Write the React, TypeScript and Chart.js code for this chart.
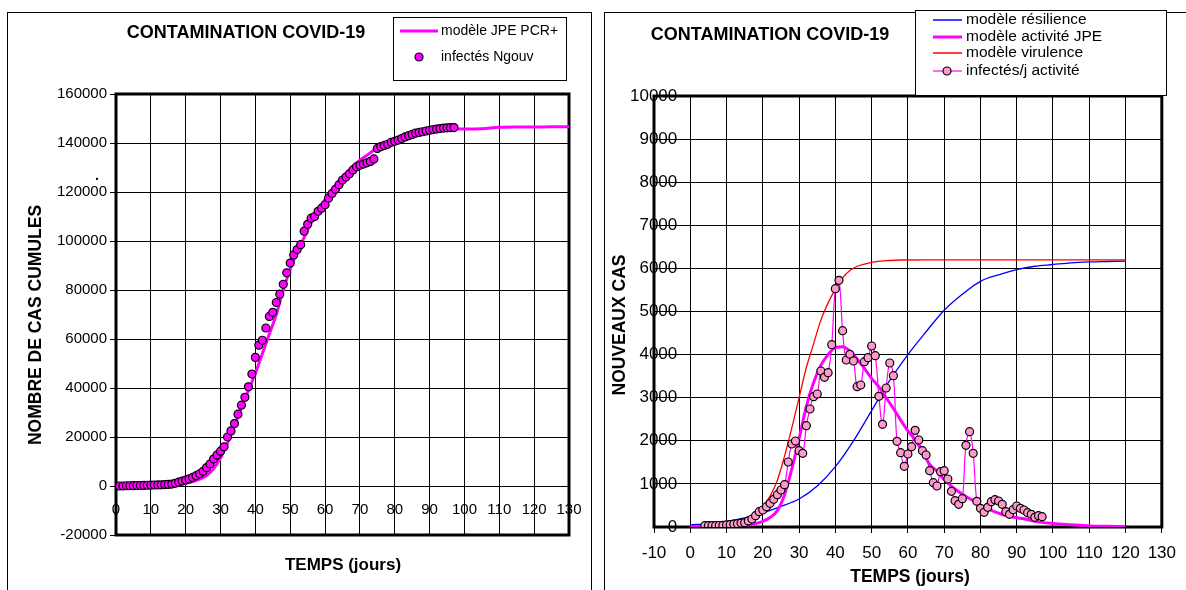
import React, { useEffect, useRef } from "react";
import { Chart, registerables } from "chart.js";
Chart.register(...registerables);

const FONT = "'Liberation Sans', Arial, sans-serif";

// ---------- LEFT CHART DATA (cumulative) ----------
const cumStartDay = 0;
const cumValues = [
  0, 0, 0, 100, 100, 150, 200, 200, 250, 300,
  350, 400, 450, 500, 600, 650, 800, 1100, 1600, 2000,
  2400, 2900, 3500, 4200, 5000, 6000, 7500, 9000, 11000, 12700,
  14200, 16000, 20000, 22500, 25500, 29300, 33000, 36200, 40500, 45700,
  52500, 57500, 59500, 64500, 69200, 70900, 74900, 78300, 82300, 87000,
  91000, 94300, 96500, 98500, 104000, 106800, 109300, 110000, 112100, 113400,
  114800, 117500, 119400, 121100, 123000, 124900, 126100, 127400, 129000, 130300,
  130900, 131400, 131900, 132500, 133500, 137800, 138500, 139000, 139500, 140300,
  140700, 141200, 141800, 142500, 143000, 143500, 144000, 144300, 144600, 144900,
  145200, 145500, 145700, 145900, 146100, 146200, 146250, 146300,
];
const cumModelDays = [
  0, 2, 4, 6, 8, 10, 12, 14, 16, 18, 20, 22, 24, 26, 28, 30, 32, 34, 36, 38,
  40, 42, 44, 46, 48, 50, 52, 54, 56, 58, 60, 62, 64, 66, 68, 70, 72, 74, 76, 78,
  80, 82, 84, 86, 88, 90, 92, 94, 96, 98, 100, 105, 110, 115, 120, 125, 130,
];
const cumModelValues = [
  0, 0, 0, 0, 50, 100, 150, 250, 400, 700, 1100, 1800, 2800, 4300, 7000, 11500, 17500, 24500, 32000, 39000,
  46000, 54000, 62000, 70000, 80000, 88500, 95500, 101500, 107500, 112500, 117000, 121000, 124500, 127500, 130500, 133000, 135000, 137000, 138800, 140000,
  141000, 142000, 142800, 143500, 144200, 144800, 145200, 145500, 145600, 145700, 145700, 145800, 146400, 146500, 146500, 146600, 146600,
];

// ---------- RIGHT CHART DATA (daily) ----------
const dailyStartDay = 4;
const dailyValues = [
  30, 30, 30, 30, 35, 40, 50, 55, 65, 75,
  90, 100, 140, 186, 263, 356, 394, 472, 550, 642,
  750, 858, 982, 1508, 1926, 1995, 1771, 1710, 2350, 2738,
  3024, 3086, 3620, 3473, 3580, 4230, 5530, 5724, 4555, 3875,
  4006, 3851, 3255, 3295, 3836, 3929, 4200, 3975, 3032, 2382,
  3225, 3805, 3511, 1988, 1725, 1408, 1694, 1864, 2243, 2018,
  1770, 1670, 1306, 1028, 951, 1283, 1306, 1114, 828, 610,
  527, 657, 1896, 2211, 1710, 596, 434, 341, 457, 587,
  633, 603, 527, 355, 295, 401, 487, 434, 394, 332,
  295, 225, 262, 239,
];
const activityModelDays = [
  0, 5, 10, 15, 18, 20, 22, 24, 26, 28, 30, 32, 34, 36, 38, 40, 42, 44, 46, 48,
  50, 52, 54, 56, 58, 60, 62, 64, 66, 68, 70, 72, 74, 76, 78, 80, 82, 84, 86, 88,
  90, 92, 95, 100, 105, 110, 115, 120,
];
const activityModelValues = [
  0, 0, 5, 30, 80, 130, 220, 380, 750, 1350, 2050, 2800, 3350, 3750, 4000, 4160, 4180, 4080, 3900, 3680,
  3450, 3250, 3000, 2750, 2480, 2230, 2020, 1750, 1450, 1300, 1100, 950, 820, 710, 610, 500, 420, 350, 290, 250,
  215, 190, 130, 80, 50, 25, 15, 5,
];
const virulenceDays = [0, 5, 10, 14, 16, 18, 20, 22, 24, 26, 28, 30, 32, 34, 36, 38, 40, 42, 44, 46, 48, 50, 54, 58, 65, 80, 100, 120];
const virulenceValues = [0, 10, 40, 100, 170, 290, 470, 720, 1080, 1650, 2300, 3000, 3700, 4250, 4800, 5200, 5520, 5780, 5950, 6050, 6100, 6140, 6180, 6195, 6200, 6200, 6200, 6200];
const resilienceDays = [0, 5, 10, 15, 20, 25, 30, 35, 40, 45, 50, 55, 60, 65, 70, 75, 80, 85, 90, 95, 100, 105, 110, 115, 120];
const resilienceValues = [50, 80, 130, 210, 330, 480, 650, 950, 1400, 2000, 2700, 3400, 4000, 4530, 5030, 5400, 5700, 5850, 5970, 6050, 6090, 6130, 6150, 6160, 6170];

const TITLE = "CONTAMINATION COVID-19";
const X_TITLE = "TEMPS (jours)";
const LEFT_Y_TITLE = "NOMBRE DE CAS CUMULES";
const RIGHT_Y_TITLE = "NOUVEAUX CAS";
const LEFT_LEGEND = ["modèle JPE PCR+", "infectés Ngouv"];
const RIGHT_LEGEND = ["modèle résilience", "modèle activité JPE", "modèle virulence", "infectés/j activité"];

const MAGENTA = "#ff00ff";
const PINK = "#ff99cc";
const RED = "#ff0000";
const BLUE = "#0000ff";

const pts = (xs: number[], ys: number[]) => ys.map((y, i) => ({ x: xs[i], y }));
const seq = (start: number, ys: number[]) => ys.map((y, i) => ({ x: start + i, y }));
const plain = (v: any) => String(v);

function drawFrame(ctx: CanvasRenderingContext2D, a: any, w: number) {
  ctx.save();
  ctx.strokeStyle = "#000";
  ctx.lineWidth = w;
  ctx.strokeRect(a.left, a.top, a.right - a.left, a.bottom - a.top);
  ctx.restore();
}

function text(ctx: CanvasRenderingContext2D, s: string, x: number, y: number, size: number, bold: boolean, align: CanvasTextAlign = "center", rot = 0) {
  ctx.save();
  ctx.translate(x, y);
  if (rot) ctx.rotate(rot);
  ctx.font = `${bold ? "bold " : ""}${size}px ${FONT}`;
  ctx.fillStyle = "#000";
  ctx.textAlign = align;
  ctx.textBaseline = "middle";
  ctx.fillText(s, 0, 0);
  ctx.restore();
}

function marker(ctx: CanvasRenderingContext2D, x: number, y: number, fill: string) {
  ctx.save();
  ctx.beginPath();
  ctx.arc(x, y, 4, 0, Math.PI * 2);
  ctx.fillStyle = fill;
  ctx.fill();
  ctx.lineWidth = 1.2;
  ctx.strokeStyle = "#000";
  ctx.stroke();
  ctx.restore();
}

function seg(ctx: CanvasRenderingContext2D, x1: number, x2: number, y: number, color: string, w: number) {
  ctx.save();
  ctx.beginPath();
  ctx.moveTo(x1, y);
  ctx.lineTo(x2, y);
  ctx.strokeStyle = color;
  ctx.lineWidth = w;
  ctx.stroke();
  ctx.restore();
}

const leftDeco = {
  id: "leftDeco",
  beforeDatasetsDraw(chart: any) {
    drawFrame(chart.ctx, chart.chartArea, 3);
  },
  afterDraw(chart: any) {
    const ctx = chart.ctx;
    text(ctx, TITLE, 246, 33, 18, true);
    ctx.save();
    ctx.fillStyle = "#fff";
    ctx.fillRect(393, 17, 173, 63);
    ctx.strokeStyle = "#000";
    ctx.lineWidth = 1;
    ctx.strokeRect(393.5, 17.5, 173, 63);
    ctx.restore();
    seg(ctx, 400, 438, 31, MAGENTA, 3);
    text(ctx, LEFT_LEGEND[0], 441, 31, 14, false, "left");
    marker(ctx, 419, 57, MAGENTA);
    text(ctx, LEFT_LEGEND[1], 441, 57, 14, false, "left");
    text(ctx, LEFT_Y_TITLE, 36, 325, 17.5, true, "center", -Math.PI / 2);
    text(ctx, ".", 97, 176, 14, true);
    text(ctx, X_TITLE, 343, 565, 17, true);
  },
};

const rightDeco = {
  id: "rightDeco",
  beforeDatasetsDraw(chart: any) {
    drawFrame(chart.ctx, chart.chartArea, 3);
  },
  afterDraw(chart: any) {
    const ctx = chart.ctx;
    text(ctx, TITLE, 172, 35, 18, true);
    ctx.save();
    ctx.fillStyle = "#fff";
    ctx.fillRect(317, 10, 251, 85);
    ctx.strokeStyle = "#000";
    ctx.lineWidth = 1;
    ctx.strokeRect(317.5, 10.5, 251, 85);
    ctx.restore();
    const ys = [20, 37, 53, 71];
    seg(ctx, 335, 364, ys[0], BLUE, 1.5);
    seg(ctx, 335, 364, ys[1], MAGENTA, 3);
    seg(ctx, 335, 364, ys[2], RED, 1.5);
    seg(ctx, 335, 364, ys[3], MAGENTA, 1.2);
    marker(ctx, 349, ys[3], PINK);
    RIGHT_LEGEND.forEach((s, i) => text(ctx, s, 368, ys[i], 15.5, false, "left"));
    text(ctx, RIGHT_Y_TITLE, 22, 325, 17.5, true, "center", -Math.PI / 2);
    text(ctx, X_TITLE, 312, 577, 17.5, true);
  },
};

function LeftChart() {
  const ref = useRef<HTMLCanvasElement>(null);
  useEffect(() => {
    const chart = new Chart(ref.current as HTMLCanvasElement, {
      type: "line",
      data: {
        datasets: [
          {
            label: LEFT_LEGEND[1],
            data: seq(cumStartDay, cumValues),
            showLine: false,
            pointRadius: 4,
            pointBackgroundColor: MAGENTA,
            pointBorderColor: "#000",
            pointBorderWidth: 1.2,
            order: 0,
          },
          {
            label: LEFT_LEGEND[0],
            data: pts(cumModelDays, cumModelValues),
            borderColor: MAGENTA,
            borderWidth: 3,
            pointRadius: 0,
            cubicInterpolationMode: "monotone",
            order: 1,
          },
        ],
      } as any,
      options: {
        responsive: false,
        animation: false,
        layout: { padding: { left: 0, top: 94, right: 29, bottom: 55 } },
        plugins: { legend: { display: false }, tooltip: { enabled: false }, title: { display: false } },
        scales: {
          x: {
            type: "linear",
            min: 0,
            max: 130,
            position: { y: 0 } as any,
            ticks: { stepSize: 10, color: "#000", font: { family: FONT, size: 15 }, padding: 15, autoSkip: false, maxRotation: 0, callback: plain },
            grid: { color: "#000", lineWidth: 1, drawTicks: false },
            border: { display: false },
          },
          y: {
            type: "linear",
            min: -20000,
            max: 160000,
            ticks: { stepSize: 20000, color: "#000", font: { family: FONT, size: 15 }, padding: 3, callback: plain },
            grid: { color: "#000", lineWidth: 1, tickLength: 6 },
            border: { display: false },
            afterFit(s: any) {
              s.width = 116;
            },
          },
        },
      } as any,
      plugins: [leftDeco],
    });
    return () => chart.destroy();
  }, []);
  return <canvas ref={ref} width={598} height={590} style={{ position: "absolute", left: 0, top: 0, width: 598, height: 590 }} />;
}

function RightChart() {
  const ref = useRef<HTMLCanvasElement>(null);
  useEffect(() => {
    const chart = new Chart(ref.current as HTMLCanvasElement, {
      type: "line",
      data: {
        datasets: [
          {
            label: RIGHT_LEGEND[3],
            data: seq(dailyStartDay, dailyValues),
            borderColor: MAGENTA,
            borderWidth: 1.2,
            tension: 0.4,
            pointRadius: 4,
            pointBackgroundColor: PINK,
            pointBorderColor: "#000",
            pointBorderWidth: 1.2,
            order: 0,
          },
          {
            label: RIGHT_LEGEND[1],
            data: pts(activityModelDays, activityModelValues),
            borderColor: MAGENTA,
            borderWidth: 3,
            pointRadius: 0,
            cubicInterpolationMode: "monotone",
            order: 1,
          },
          {
            label: RIGHT_LEGEND[2],
            data: pts(virulenceDays, virulenceValues),
            borderColor: RED,
            borderWidth: 1.3,
            pointRadius: 0,
            cubicInterpolationMode: "monotone",
            order: 2,
          },
          {
            label: RIGHT_LEGEND[0],
            data: pts(resilienceDays, resilienceValues),
            borderColor: BLUE,
            borderWidth: 1.3,
            pointRadius: 0,
            cubicInterpolationMode: "monotone",
            order: 3,
          },
        ],
      } as any,
      options: {
        responsive: false,
        animation: false,
        layout: { padding: { left: 0, top: 96, right: 19, bottom: 23 } },
        plugins: { legend: { display: false }, tooltip: { enabled: false }, title: { display: false } },
        scales: {
          x: {
            type: "linear",
            min: -10,
            max: 130,
            position: "bottom",
            ticks: { stepSize: 10, color: "#000", font: { family: FONT, size: 17 }, padding: 10, autoSkip: false, maxRotation: 0, callback: plain },
            grid: { color: "#000", lineWidth: 1, tickLength: 6 },
            border: { display: false },
            afterFit(s: any) {
              s.height = 40;
            },
          },
          y: {
            type: "linear",
            min: 0,
            max: 10000,
            ticks: { stepSize: 1000, color: "#000", font: { family: FONT, size: 17 }, mirror: true, crossAlign: "far", padding: -24, callback: plain },
            grid: { color: "#000", lineWidth: 1, drawTicks: false },
            border: { display: false },
            afterFit(s: any) {
              s.width = 56;
            },
          },
        },
      } as any,
      plugins: [rightDeco],
    });
    return () => chart.destroy();
  }, []);
  return <canvas ref={ref} width={588} height={590} style={{ position: "absolute", left: 598, top: 0, width: 588, height: 590 }} />;
}

export default function App() {
  return (
    <div style={{ position: "fixed", left: 0, top: 0, width: 1186, height: 590, overflow: "hidden", background: "#fff" }}>
      <div style={{ position: "absolute", left: 7, top: 12, width: 585, height: 620, border: "1px solid #000", boxSizing: "border-box" }} />
      <div style={{ position: "absolute", left: 604, top: 12, width: 620, height: 620, border: "1px solid #000", boxSizing: "border-box" }} />
      <LeftChart />
      <RightChart />
    </div>
  );
}
